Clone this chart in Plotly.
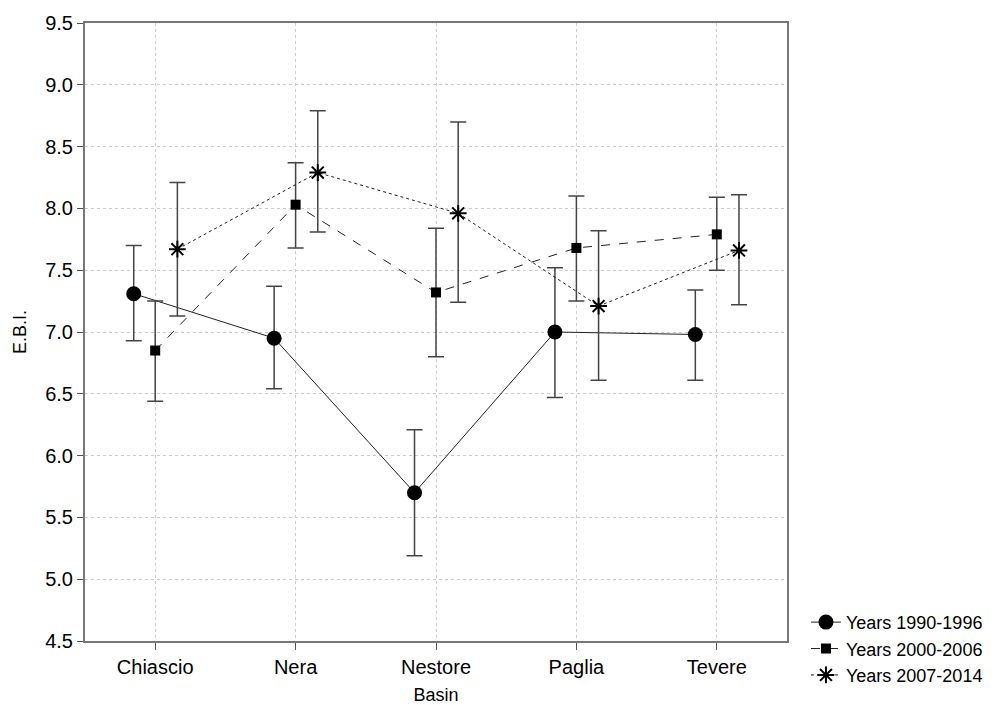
import plotly.graph_objects as go

basins = ["Chiascio", "Nera", "Nestore", "Paglia", "Tevere"]
series_names = ["Years 1990-1996", "Years 2000-2006", "Years 2007-2014"]

mean_1990 = [7.31, 6.95, 5.70, 7.00, 6.98]
upper_1990 = [7.70, 7.37, 6.21, 7.52, 7.34]
lower_1990 = [6.93, 6.54, 5.19, 6.47, 6.61]

mean_2000 = [6.85, 8.03, 7.32, 7.68, 7.79]
upper_2000 = [7.25, 8.37, 7.84, 8.10, 8.09]
lower_2000 = [6.44, 7.68, 6.80, 7.25, 7.50]

mean_2007 = [7.67, 8.29, 7.96, 7.21, 7.66]
upper_2007 = [8.21, 8.79, 8.70, 7.82, 8.11]
lower_2007 = [7.13, 7.81, 7.24, 6.61, 7.22]

y_ticks = [4.5, 5.0, 5.5, 6.0, 6.5, 7.0, 7.5, 8.0, 8.5, 9.0, 9.5]

FONT = "Liberation Sans, Arial, sans-serif"

series = [
    (series_names[0], mean_1990, upper_1990, lower_1990, -0.153, "circle", 15, "solid"),
    (series_names[1], mean_2000, upper_2000, lower_2000, 0.0, "square", 10, "dash"),
    (series_names[2], mean_2007, upper_2007, lower_2007, 0.158, "asterisk-open", 14, "dot"),
]

fig = go.Figure()
for name, m, up, lo, off, sym, size, dash in series:
    xs = [i + off for i in range(len(basins))]
    fig.add_trace(go.Scatter(
        x=xs, y=m, name=name, mode="lines+markers",
        line=dict(color="#222222", width=1, dash=dash),
        marker=dict(symbol=sym, size=size, color="black",
                    line=dict(color="black", width=2 if sym == "asterisk-open" else 0)),
        error_y=dict(type="data", symmetric=False,
                     array=[u - v for u, v in zip(up, m)],
                     arrayminus=[v - l for v, l in zip(m, lo)],
                     color="#444444", thickness=1.5, width=8),
    ))

grid = dict(showgrid=True, gridcolor="#cccccc", griddash="dot", gridwidth=1)

fig.update_layout(
    width=1006, height=705,
    margin=dict(l=85, r=219, t=23, b=64, autoexpand=False),
    paper_bgcolor="white", plot_bgcolor="white",
    font=dict(family=FONT, size=19, color="black"),
    xaxis=dict(range=[-0.5, 4.5], tickmode="array", tickvals=list(range(len(basins))),
               ticktext=basins, ticks="outside", ticklen=7, tickcolor="#555555",
               tickfont=dict(size=20), automargin=False,
               showline=True, linecolor="#777777", linewidth=2, mirror=True,
               zeroline=False, title=dict(text="Basin", font=dict(size=18), standoff=14),
               **grid),
    yaxis=dict(range=[4.5, 9.5], tickmode="array", tickvals=y_ticks,
               ticktext=[f"{v:.1f}" for v in y_ticks], ticks="outside", ticklen=6,
               tickcolor="#555555", tickfont=dict(size=20), automargin=False,
               showline=True, linecolor="#777777", linewidth=2, mirror=True,
               zeroline=False, title=dict(text="E.B.I.", font=dict(size=18), standoff=14),
               **grid),
    legend=dict(x=1.027, y=0.06, xanchor="left", yanchor="top",
                font=dict(size=18), bgcolor="rgba(0,0,0,0)", tracegroupgap=0,
                itemwidth=30),
    showlegend=True,
)

fig.write_html("out.html")
